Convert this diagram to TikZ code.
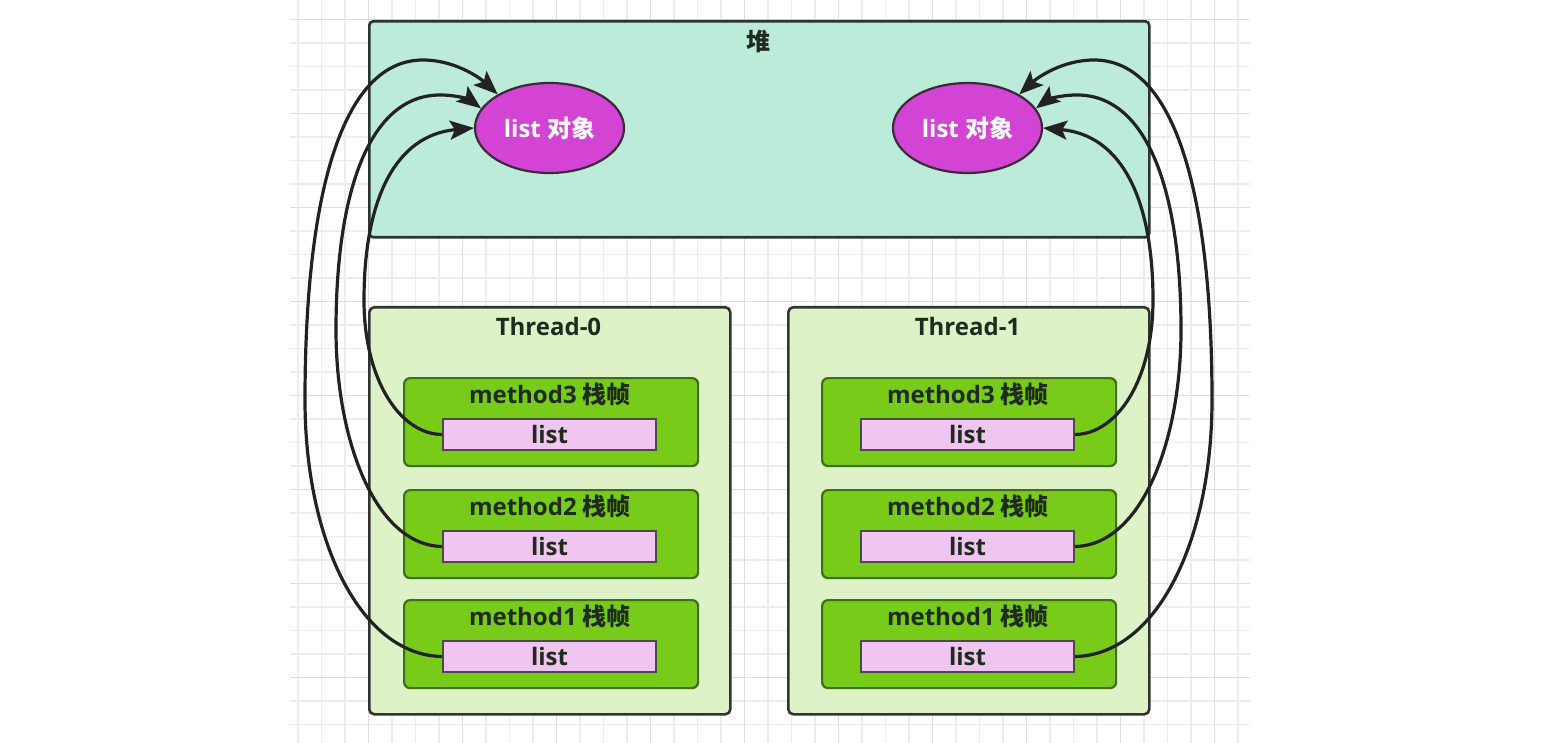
\documentclass[tikz,border=0pt]{standalone}
\usepackage{fontspec}
\setmainfont{Open Sans}
\newfontfamily\cjk{Noto Sans CJK SC}
\usetikzlibrary{shapes.geometric,arrows.meta}
\definecolor{heapfill}{HTML}{BCEBD9}
\definecolor{heapdraw}{HTML}{2A3430}
\definecolor{threadfill}{HTML}{DDF2C6}
\definecolor{threaddraw}{HTML}{333333}
\definecolor{methodfill}{HTML}{78CB18}
\definecolor{methoddraw}{HTML}{3E6E17}
\definecolor{listfill}{HTML}{F0C5F0}
\definecolor{listdraw}{HTML}{4A4A4A}
\definecolor{ellfill}{HTML}{D444D4}
\definecolor{elldraw}{HTML}{3A2A3A}
\definecolor{txt}{HTML}{1E2B1E}
\definecolor{linec}{HTML}{222222}
\definecolor{gridminor}{HTML}{EDEDED}
\definecolor{gridmajor}{HTML}{DEDEDE}
\tikzset{
  lbl/.style={font=\fontsize{24}{28}\selectfont\bfseries, text=txt, inner sep=0pt},
  heapbox/.style={draw=heapdraw, fill=heapfill, line width=2.6pt, rounded corners=4pt, minimum width=780pt, minimum height=216pt, anchor=north west, inner sep=0pt},
  threadbox/.style={draw=threaddraw, fill=threadfill, line width=2.6pt, rounded corners=5pt, minimum width=361pt, minimum height=407pt, anchor=north west, inner sep=0pt},
  methodbox/.style={draw=methoddraw, fill=methodfill, line width=2.2pt, rounded corners=6pt, minimum width=294pt, minimum height=88pt, anchor=north west, inner sep=0pt},
  listbox/.style={draw=listdraw, fill=listfill, line width=2.2pt, minimum width=213pt, minimum height=31pt, inner sep=0pt, lbl},
  objell/.style={ellipse, draw=elldraw, fill=ellfill, line width=2.2pt, minimum width=149pt, minimum height=90pt, inner sep=0pt, lbl, text=white},
  minorgrid/.style={draw=gridminor, line width=1.3pt},
  majorgrid/.style={draw=gridmajor, line width=1.7pt},
  refline/.style={draw=linec, line width=3.2pt, -{Stealth[length=24pt,width=19pt,inset=5pt]}}
}
\begin{document}
\begin{tikzpicture}[x=1pt,y=-1pt]
\useasboundingbox (0,0) rectangle (1553,743);
\fill[white] (0,0) rectangle (1553,743);
% grid
\begin{scope}
\clip (290,0) rectangle (1250,743);
\foreach \i in {-3,...,37} \draw[minorgrid] ({368.5+23.5*\i},0) -- ({368.5+23.5*\i},743);
\foreach \j in {-1,...,31} \draw[minorgrid] (290,{19.5+23.5*\j}) -- (1250,{19.5+23.5*\j});
\foreach \i in {-1,...,9} \draw[majorgrid] ({368.5+94*\i},0) -- ({368.5+94*\i},743);
\foreach \j in {0,...,7} \draw[majorgrid] (290,{19.5+94*\j}) -- (1250,{19.5+94*\j});
\end{scope}
% heap
\node[heapbox] (heap) at (368,20) {};
\node[lbl] (heapt) at (758,41) {\cjk 堆};
\node[objell] (obj0) at (549.5,128) {list {\cjk 对象}};
\node[objell] (obj1) at (967.5,128) {list {\cjk 对象}};
% threads
\node[threadbox] (t0) at (368,306) {};
\node[threadbox] (t1) at (787,306) {};
\node[lbl] (t0t) at (548.5,327) {Thread-0};
\node[lbl] (t1t) at (967.5,327) {Thread-1};
\foreach \t/\ox in {0/0,1/418}{
  \foreach \m/\oy in {3/377,2/489,1/599}{
    \node[methodbox] (m\t\m) at ({403+\ox},\oy) {};
    \node[lbl] (mt\t\m) at ({550+\ox},{\oy+17}) {method\m\ {\cjk 栈帧}};
    \node[listbox] (l\t\m) at ({549.5+\ox},{\oy+57.5}) {list};
  }
}
% left references
\draw[refline] (l01.west) .. controls (360,655) and (305,540) .. (305,400)
  .. controls (305,200) and (340,60) .. (423,60)
  .. controls (455,60) and (480,78) .. (obj0.147);
\draw[refline] (l02.west) .. controls (375,545) and (336,440) .. (336,330)
  .. controls (336,190) and (370,95) .. (440,95)
  .. controls (458,95) and (470,100) .. (obj0.164);
\draw[refline] (l03.west) .. controls (400,434) and (364,380) .. (364,300)
  .. controls (364,200) and (395,135) .. (obj0.west);
% right references
\draw[refline] (l11.east) .. controls (1157,655) and (1212,540) .. (1212,400)
  .. controls (1212,200) and (1177,60) .. (1094,60)
  .. controls (1062,60) and (1037,78) .. (obj1.33);
\draw[refline] (l12.east) .. controls (1142,545) and (1181,440) .. (1181,330)
  .. controls (1181,190) and (1147,95) .. (1077,95)
  .. controls (1059,95) and (1047,100) .. (obj1.16);
\draw[refline] (l13.east) .. controls (1117,434) and (1153,380) .. (1153,300)
  .. controls (1153,200) and (1122,135) .. (obj1.east);
\end{tikzpicture}
\end{document}
